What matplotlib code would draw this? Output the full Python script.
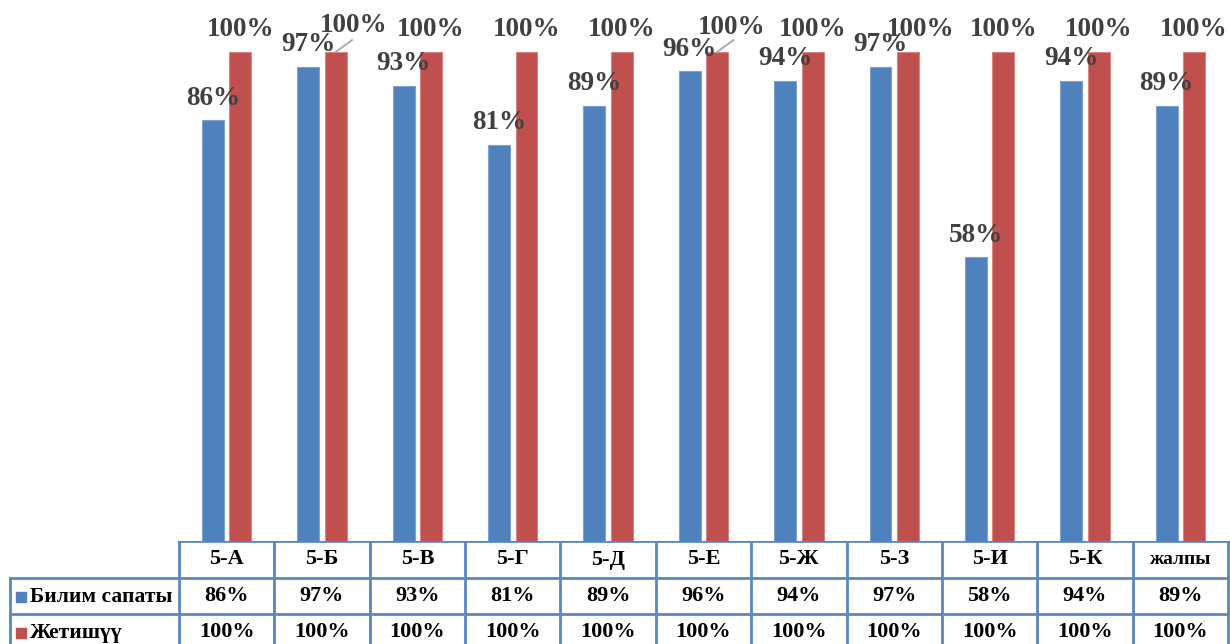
import numpy as np
import matplotlib.pyplot as plt

plt.rcParams['font.family'] = ['Liberation Serif', 'DejaVu Serif']

classes = ['5-А', '5-Б', '5-В', '5-Г', '5-Д', '5-Е', '5-Ж', '5-З', '5-И', '5-К', 'жалпы']
bilim = [86, 97, 93, 81, 89, 96, 94, 97, 58, 94, 89]
jetish = [100, 100, 100, 100, 100, 100, 100, 100, 100, 100, 100]
series_names = ['Билим сапаты', 'Жетишүү']

blue = '#4F81BD'
red = '#C0504D'
lbl_col = '#404040'

W, H = 1230, 644
fig = plt.figure(figsize=(W / 100, H / 100), dpi=100)

# plot area in pixels
px0, px1 = 179, 1228
py_base = 541
ax = fig.add_axes([px0 / W, (H - py_base) / H, (px1 - px0) / W, py_base / H])
x = np.arange(len(classes))
bw = 0.23
off = 0.144
ax.bar(x - off, bilim, bw, color=blue, edgecolor='#7FA1D0', linewidth=0.8)
ax.bar(x + off, jetish, bw, color=red, edgecolor='#D98482', linewidth=0.8)
ax.set_xlim(-0.5, len(classes) - 0.5)
ax.set_ylim(0, 110.6)
ax.axis('off')

# data labels (a few red ones pushed right, like the source)
shift_r = {1: (0.19, 0.8), 5: (0.15, 0.5), 7: (0.13, 0)}
for i in x:
    ax.text(i - off, bilim[i] + 2.0, f'{bilim[i]}%', ha='center', va='bottom',
            fontsize=19.5, fontweight='bold', color=lbl_col)
    dx, dy = shift_r.get(i, (0, 0))
    ax.text(i + off + dx, jetish[i] + 2.0 + dy, f'{jetish[i]}%', ha='center', va='bottom',
            fontsize=19.5, fontweight='bold', color=lbl_col)
    if i in (1, 5):
        ax.plot([i + off, i + off + 0.17], [100, 102.4], color='#A6A6A6', lw=1.3)

# data table below the bars
unit = (px1 - px0) / len(classes)
tx0 = -0.5 - px0 / unit
tx1 = len(classes) - 0.5 + (W - px1) / unit
at = fig.add_axes([0, 0, 1, (H - py_base) / H])
at.set_xlim(tx0, tx1)
at.set_ylim(H - py_base, 0)
at.axis('off')
lc = '#5B87C0'
lw = 2
left = -0.5 - (px0 - 10) / unit
right = len(classes) - 0.5
at.plot([-0.5, right], [0, 0], color=lc, lw=lw)
at.plot([left, right], [37, 37], color=lc, lw=lw)
at.plot([left, right], [73, 73], color=lc, lw=lw)
for k in range(len(classes) + 1):
    at.plot([k - 0.5, k - 0.5], [0, 110], color=lc, lw=lw)
at.plot([left, left], [37, 110], color=lc, lw=lw)

for i in x:
    at.text(i, 18.5, classes[i], ha='center', va='center', fontsize=16 if i < 10 else 14,
            fontweight='bold', color='black')
    at.text(i, 55, f'{bilim[i]}%', ha='center', va='center', fontsize=16,
            fontweight='bold', color='black')
    at.text(i, 91, f'{jetish[i]}%', ha='center', va='center', fontsize=16,
            fontweight='bold', color='black')

for row, (name, col) in enumerate(zip(series_names, [blue, red])):
    yc = 56 + row * 36
    sx = left + 6 / unit
    at.add_patch(plt.Rectangle((sx, yc - 5), 10 / unit, 10, color=col, clip_on=False))
    at.text(sx + 14 / unit, yc, name, ha='left', va='center', fontsize=15.5,
            fontweight='bold', color='black')

fig.savefig('out.png', dpi=100)
